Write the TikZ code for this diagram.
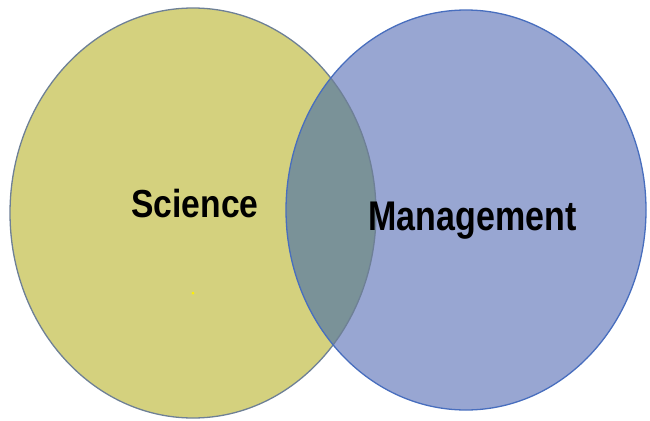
\documentclass[tikz,border=0pt]{standalone}
\usepackage{fontspec}
\setmainfont{Liberation Sans}
\usepackage{tikz}

\definecolor{scifill}{RGB}{212,209,126}
\definecolor{mgtfill}{RGB}{152,166,210}
\definecolor{bothfill}{RGB}{122,146,152}
\definecolor{sciline}{RGB}{110,128,150}
\definecolor{mgtline}{RGB}{72,110,190}

\tikzset{
  setlabel/.style={font=\bfseries\fontsize{34}{36}\selectfont,text=black,inner sep=0pt,anchor=base}
}

\begin{document}
\begin{tikzpicture}[x=1pt,y=-1pt]
  \useasboundingbox (0,0) rectangle (650,420);
  % the two sets
  \fill[scifill] (193,213) ellipse [x radius=183,y radius=205];
  \fill[mgtfill] (466,210) ellipse [x radius=180,y radius=200];
  \begin{scope}
    \clip (193,213) ellipse [x radius=183,y radius=205];
    \fill[bothfill] (466,210) ellipse [x radius=180,y radius=200];
  \end{scope}
  \draw[sciline,line width=1.3pt] (193,213) ellipse [x radius=183,y radius=205];
  \draw[mgtline,line width=1.3pt] (466,210) ellipse [x radius=180,y radius=200];
  \fill[yellow] (193,293) circle [radius=1.5];
  % labels
  \node[setlabel] (sci) at (195,217) {\scalebox{0.99}[1.15]{Science}};
  \node[setlabel] (mgt) at (472.5,230) {\scalebox{1.0}[1.22]{Management}};
\end{tikzpicture}
\end{document}
